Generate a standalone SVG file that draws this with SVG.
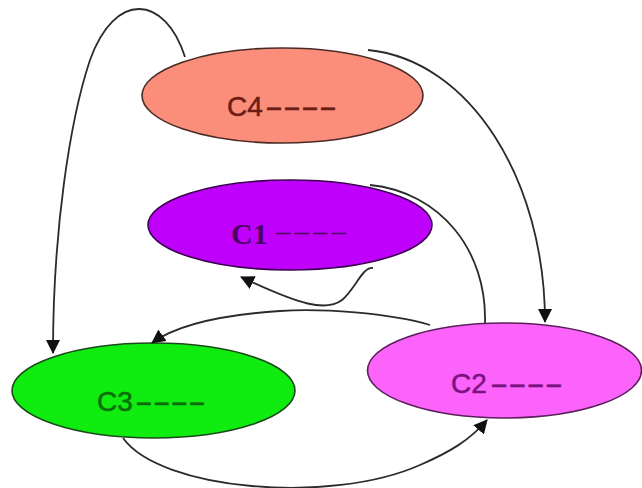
<svg xmlns="http://www.w3.org/2000/svg" width="642" height="488" viewBox="0 0 642 488">
<defs>
<style>
.node{stroke-width:1.6}
.lbl{font-family:"Liberation Sans","DejaVu Sans",sans-serif;font-size:28px;stroke-width:0.5}
.edge{fill:none;stroke:#2b2b2b;stroke-width:1.8}
</style>
<marker id="ah" viewBox="0 0 14 14" refX="13" refY="7" markerWidth="14" markerHeight="14" orient="auto" markerUnits="userSpaceOnUse">
<path d="M0,0 L14,7 L0,14 z" fill="#111"/>
</marker>
</defs>
<rect width="642" height="488" fill="#ffffff"/>
<g id="C4">
<ellipse class="node" cx="282.5" cy="95.5" rx="140.5" ry="47.5" fill="#fa8e7b" stroke="#4a2a24"/>
<text class="lbl" x="227" y="116" fill="#6b1d14" stroke="#6b1d14">C4<tspan x="265" textLength="72" lengthAdjust="spacingAndGlyphs">----</tspan></text>
</g>
<g id="C1">
<ellipse class="node" cx="290" cy="225" rx="142" ry="45" fill="#bf00fb" stroke="#3a0050"/>
<text x="231" y="244" fill="#4a0062" font-family="Liberation Serif,serif" font-weight="bold" font-size="30">C1<tspan x="274" y="238" font-size="16" textLength="74" lengthAdjust="spacingAndGlyphs">----</tspan></text>
</g>
<g id="C3">
<ellipse class="node" cx="153.5" cy="390.5" rx="141.5" ry="47.5" fill="#10ec10" stroke="#1a4a1a"/>
<text class="lbl" x="97" y="411" fill="#0b6e0b" stroke="#0b6e0b">C3<tspan x="135" textLength="71" lengthAdjust="spacingAndGlyphs">----</tspan></text>
</g>
<g id="C2">
<ellipse class="node" cx="504.5" cy="370.5" rx="137" ry="47.5" fill="#fb63fb" stroke="#5a205a"/>
<text class="lbl" x="451" y="393" fill="#7a137f" stroke="#7a137f" font-size="29">C2<tspan x="490" textLength="73" lengthAdjust="spacingAndGlyphs">----</tspan></text>
</g>
<g id="connectors">
<path class="edge" d="M185,57 C165,-5 115,-10 90,60 C70,120 53,230 53,353" marker-end="url(#ah)"/>
<path class="edge" d="M368,50 C470,60 545,180 545,322" marker-end="url(#ah)"/>
<path class="edge" d="M485,323 C487,250 440,192 370,185"/>
<path class="edge" d="M373,268 C362,267 356,288 342,300 C326,312 300,305 241,277" marker-end="url(#ah)"/>
<path class="edge" d="M430,325 C390,313 320,308 280,311 C220,315 175,326 152,343" marker-end="url(#ah)"/>
<path class="edge" d="M123,438 C160,490 330,505 420,465 C450,452 470,440 487,420" marker-end="url(#ah)"/>
</g>
</svg>
